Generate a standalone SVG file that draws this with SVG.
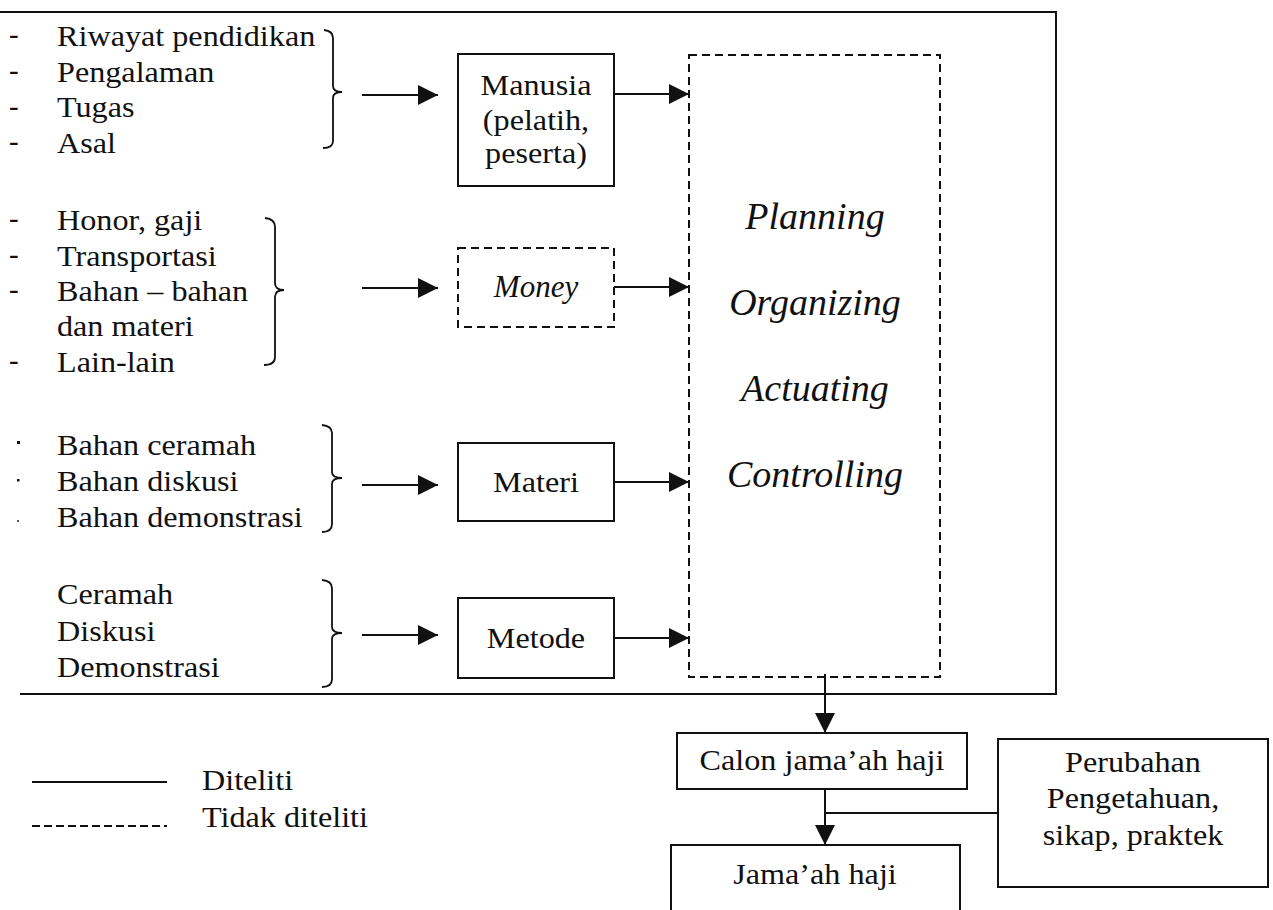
<svg xmlns="http://www.w3.org/2000/svg" width="1273" height="910" viewBox="0 0 1273 910">
<style>
.t{font-family:"Liberation Serif","Times New Roman",serif;font-size:29px;fill:#111}
.i{font-family:"Liberation Serif","Times New Roman",serif;font-style:italic;fill:#111}
.c{text-anchor:middle}
.box{fill:#fff;stroke:#111;stroke-width:2}
.dbox{fill:none;stroke:#111;stroke-width:2;stroke-dasharray:8 5}
.ln{fill:none;stroke:#111;stroke-width:2}
.br{fill:none;stroke:#111;stroke-width:1.8}
</style>
<defs>
<marker id="ah" viewBox="0 0 20 20" refX="20" refY="10" markerWidth="21" markerHeight="20" markerUnits="userSpaceOnUse" orient="auto">
<path d="M0,0 L20,10 L0,20 z" fill="#111"/>
</marker>
</defs>
<rect width="1273" height="910" fill="#fff"/>
<g id="frame">
<path class="ln" d="M0,12 H1056 V694 H20"/>
</g>
<g id="list-manusia">
<text class="t" x="9" y="44">-</text>
<text class="t" x="9" y="80">-</text>
<text class="t" x="9" y="116">-</text>
<text class="t" x="9" y="151">-</text>
<text class="t" transform="translate(57,46) scale(1.11,1)">Riwayat pendidikan</text>
<text class="t" transform="translate(57,82) scale(1.11,1)">Pengalaman</text>
<text class="t" transform="translate(57,117) scale(1.11,1)">Tugas</text>
<text class="t" transform="translate(57,153) scale(1.11,1)">Asal</text>
<path class="br" d="M324,30 Q333,31 333,38 V86 Q333,92 342,92 Q333,92 333,98 V141 Q333,148 323,148"/>
</g>
<g id="list-money">
<text class="t" x="9" y="228">-</text>
<text class="t" x="9" y="264">-</text>
<text class="t" x="9" y="299">-</text>
<text class="t" x="9" y="370">-</text>
<text class="t" transform="translate(57,230) scale(1.11,1)">Honor, gaji</text>
<text class="t" transform="translate(57,266) scale(1.11,1)">Transportasi</text>
<text class="t" transform="translate(57,301) scale(1.11,1)">Bahan – bahan</text>
<text class="t" transform="translate(57,336) scale(1.11,1)">dan materi</text>
<text class="t" transform="translate(57,372) scale(1.11,1)">Lain-lain</text>
<path class="br" d="M265,218 Q275,219 275,227 V283 Q275,290 284,290 Q275,290 275,297 V357 Q275,365 264,365"/>
</g>
<g id="list-materi">
<rect x="17" y="441" width="3" height="3" fill="#111"/>
<rect x="17" y="479" width="2.5" height="2.5" fill="#111"/>
<rect x="17" y="520" width="2" height="2" fill="#555"/>
<text class="t" transform="translate(57,455) scale(1.11,1)">Bahan ceramah</text>
<text class="t" transform="translate(57,491) scale(1.11,1)">Bahan diskusi</text>
<text class="t" transform="translate(57,527) scale(1.11,1)">Bahan demonstrasi</text>
<path class="br" d="M322,425 Q332,426 332,433 V472 Q332,478 342,478 Q332,478 332,484 V524 Q332,532 322,532"/>
</g>
<g id="list-metode">
<text class="t" transform="translate(57,604) scale(1.11,1)">Ceramah</text>
<text class="t" transform="translate(57,641) scale(1.11,1)">Diskusi</text>
<text class="t" transform="translate(57,677) scale(1.11,1)">Demonstrasi</text>
<path class="br" d="M322,580 Q332,581 332,588 V627 Q332,633 342,633 Q332,633 332,639 V679 Q332,687 322,687"/>
</g>
<g id="manusia">
<rect class="box" x="458" y="54" width="156" height="132"/>
<text class="t c" transform="translate(536,95) scale(1.11,1)">Manusia</text>
<text class="t c" transform="translate(536,130) scale(1.11,1)">(pelatih,</text>
<text class="t c" transform="translate(536,163) scale(1.11,1)">peserta)</text>
</g>
<g id="money">
<rect class="dbox" x="458" y="248" width="156" height="79"/>
<text class="i c" x="536" y="297" font-size="31">Money</text>
</g>
<g id="materi">
<rect class="box" x="458" y="443" width="156" height="78"/>
<text class="t c" transform="translate(536,492) scale(1.11,1)">Materi</text>
</g>
<g id="metode">
<rect class="box" x="458" y="598" width="156" height="80"/>
<text class="t c" transform="translate(536,648) scale(1.11,1)">Metode</text>
</g>
<g id="poac">
<rect class="dbox" x="689" y="55" width="251" height="622"/>
<text class="i c" x="815" y="229" font-size="38">Planning</text>
<text class="i c" x="815" y="315" font-size="38">Organizing</text>
<text class="i c" x="815" y="401" font-size="38">Actuating</text>
<text class="i c" x="815" y="487" font-size="38">Controlling</text>
</g>
<g id="calon">
<rect class="box" x="677" y="733" width="290" height="56"/>
<text class="t c" transform="translate(822,770) scale(1.11,1)">Calon jama’ah haji</text>
</g>
<g id="jamaah">
<rect class="box" x="671" y="845" width="289" height="80"/>
<text class="t c" transform="translate(815,884) scale(1.11,1)">Jama’ah haji</text>
</g>
<g id="perubahan">
<rect class="box" x="998" y="739" width="270" height="148"/>
<text class="t c" transform="translate(1133,772) scale(1.11,1)">Perubahan</text>
<text class="t c" transform="translate(1133,808) scale(1.11,1)">Pengetahuan,</text>
<text class="t c" transform="translate(1133,845) scale(1.11,1)">sikap, praktek</text>
</g>
<g id="connectors">
<line class="ln" x1="362" y1="95" x2="438" y2="95" marker-end="url(#ah)"/>
<line class="ln" x1="362" y1="288" x2="438" y2="288" marker-end="url(#ah)"/>
<line class="ln" x1="362" y1="485" x2="438" y2="485" marker-end="url(#ah)"/>
<line class="ln" x1="362" y1="635" x2="438" y2="635" marker-end="url(#ah)"/>
<line class="ln" x1="614" y1="94" x2="689" y2="94" marker-end="url(#ah)"/>
<line class="ln" x1="614" y1="287" x2="689" y2="287" marker-end="url(#ah)"/>
<line class="ln" x1="614" y1="482" x2="689" y2="482" marker-end="url(#ah)"/>
<line class="ln" x1="614" y1="638" x2="689" y2="638" marker-end="url(#ah)"/>
<line class="ln" x1="825" y1="674" x2="825" y2="733" marker-end="url(#ah)"/>
<line class="ln" x1="825" y1="789" x2="825" y2="845" marker-end="url(#ah)"/>
<line class="ln" x1="825" y1="813" x2="998" y2="813"/>
</g>
<g id="legend">
<line class="ln" x1="32" y1="782" x2="167" y2="782"/>
<line class="ln" x1="32" y1="826" x2="167" y2="826" stroke-dasharray="8 4"/>
<text class="t" transform="translate(202,790) scale(1.11,1)">Diteliti</text>
<text class="t" transform="translate(202,827) scale(1.11,1)">Tidak diteliti</text>
</g>
</svg>
